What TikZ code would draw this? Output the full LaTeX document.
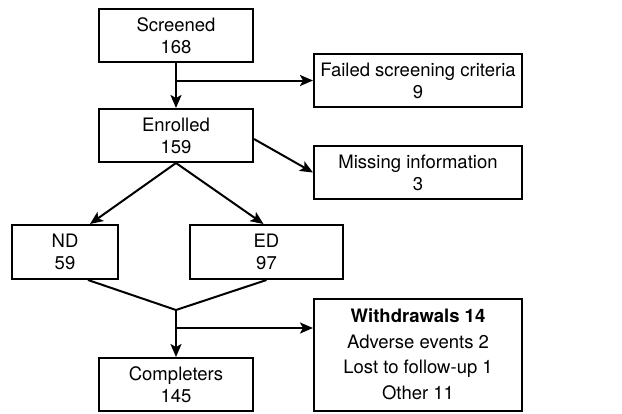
\documentclass[tikz,border=0pt]{standalone}
\usepackage{fontspec}
\setmainfont{TeX Gyre Heros}
\usetikzlibrary{arrows.meta}

\begin{document}
\begin{tikzpicture}[x=1pt,y=-1pt,
	box/.style={draw,fill=white,line width=2pt,inner sep=0pt,align=center,font=\fontsize{18.5}{22}\selectfont},
	wide/.style={box,minimum width=154pt,minimum height=53pt},
	side/.style={box,minimum width=208pt,minimum height=53pt},
	ln/.style={line width=2pt},
	arr/.style={ln,-{Stealth[length=13pt,width=11pt,inset=3pt]}}]
	\useasboundingbox (0,0) rectangle (622,413);
	\coordinate (c1) at (176,35.5);
	\coordinate (c2) at (176,135.5);
	\coordinate (c3) at (176,384.5);
	\coordinate (r1) at (418,80.5);
	\coordinate (r2) at (418,172.5);
	\coordinate (r3) at (418,354.5);
	\coordinate (g1) at (65,252);
	\coordinate (g2) at (266.5,252);
	\coordinate (split1) at (176,80.5);
	\coordinate (join) at (176,310);
	\coordinate (split2) at (176,328);
	
	\node (screened) at (c1) [wide] {Screened\\168};
	\node (enrolled) at (c2) [wide] {Enrolled\\159};
	\node (completers) at (c3) [wide] {Completers\\145};
	\node (failed) at (r1) [side] {Failed screening criteria\\9};
	\node (missing) at (r2) [side] {Missing information\\3};
	\node (withdrawals) at (r3) [side,minimum height=112pt,font=\fontsize{18.5}{25.5}\selectfont] {\textbf{Withdrawals 14}\\Adverse events 2\\Lost to follow-up 1\\Other 11};
	\node (nd) at (g1) [box,minimum width=106pt,minimum height=54pt] {ND\\59};
	\node (ed) at (g2) [box,minimum width=153pt,minimum height=54pt] {ED\\97};
	
	\draw[ln] (screened.south) -- (split1);
	\draw[arr] (split1) -- (enrolled.north);
	\draw[arr] (split1) -- (failed.west);
	\draw[arr] ([yshift=-3.5pt]enrolled.east) -- (missing.west);
	\draw[arr] (enrolled.south) -- ([xshift=25pt]nd.north);
	\draw[arr] (enrolled.south) -- ([xshift=-3pt]ed.north);
	\draw[ln] ([xshift=23pt]nd.south) -- (join) -- (ed.south);
	\draw[ln] (join) -- (split2);
	\draw[arr] (split2) -- (completers.north);
	\draw[arr] (split2) -- (split2 -| withdrawals.west);
\end{tikzpicture}
\end{document}
